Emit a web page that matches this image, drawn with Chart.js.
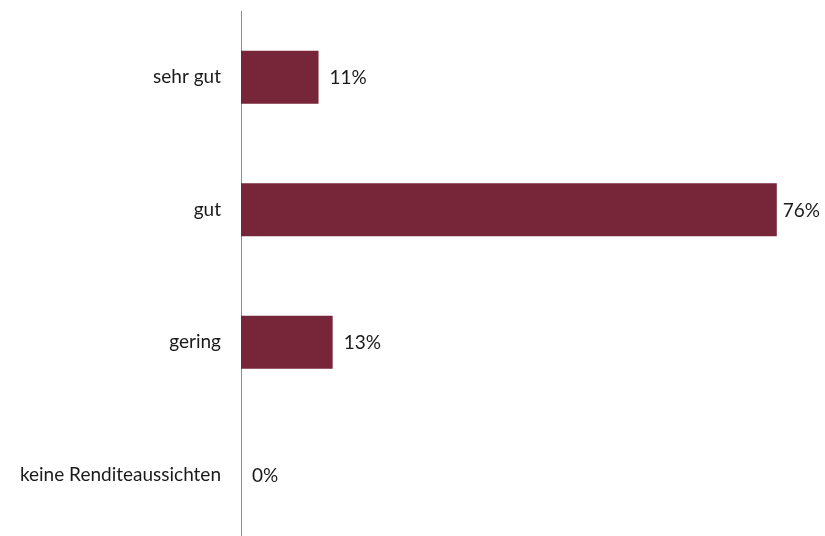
<!DOCTYPE html>
<html>
<head>
<meta charset="utf-8">
<script src="https://cdn.jsdelivr.net/npm/chart.js@4/dist/chart.umd.min.js"></script>
<style>
  html, body { margin: 0; padding: 0; background: #fff; overflow: hidden; }
  canvas { display: block; }
</style>
</head>
<body>
<canvas id="c" width="825" height="545"></canvas>
<script>
// Renditeaussichten – Anteil der Antworten je Kategorie
const categories = ['sehr gut', 'gut', 'gering', 'keine Renditeaussichten'];
const shares = [11, 76, 13, 0];
const valueLabels = ['11%', '76%', '13%', '0%'];

const BAR_COLOR = '#772538';
const TEXT_COLOR = '#1a1a1a';
const FONT_FAMILY = 'Lato, "Open Sans", sans-serif';
const FONT_SIZE = 19;

// Writes the percentage next to the end of each bar, kept inside the canvas
const valueLabelPlugin = {
  id: 'valueLabels',
  afterDatasetsDraw(chart) {
    const { ctx } = chart;
    const meta = chart.getDatasetMeta(0);
    ctx.save();
    ctx.font = FONT_SIZE + 'px ' + FONT_FAMILY;
    ctx.fillStyle = TEXT_COLOR;
    ctx.textBaseline = 'middle';
    ctx.textAlign = 'left';
    meta.data.forEach((bar, i) => {
      const text = valueLabels[i];
      const w = ctx.measureText(text).width;
      let x = bar.x + 11;
      const maxX = chart.width - 5 - w;
      if (x > maxX) x = maxX;
      ctx.fillText(text, x, bar.y + 1);
    });
    ctx.restore();
  }
};

new Chart(document.getElementById('c'), {
  type: 'bar',
  data: {
    labels: categories,
    datasets: [{
      data: shares,
      backgroundColor: BAR_COLOR,
      borderWidth: 0,
      categoryPercentage: 0.8,
      barPercentage: 0.5
    }]
  },
  options: {
    indexAxis: 'y',
    responsive: false,
    animation: false,
    layout: { padding: { top: 11, bottom: 4, left: 0, right: 20 } },
    plugins: {
      legend: { display: false },
      tooltip: { enabled: false }
    },
    scales: {
      x: {
        display: false,
        min: 0,
        max: 80
      },
      y: {
        afterFit(scale) {
          scale.width = 241;
          scale.paddingTop = 0;
          scale.paddingBottom = 0;
        },
        grid: { display: false, drawTicks: false },
        border: { display: true, color: '#8c8c8c', width: 1 },
        ticks: {
          color: TEXT_COLOR,
          padding: 20,
          font: { family: FONT_FAMILY, size: FONT_SIZE }
        }
      }
    }
  },
  plugins: [valueLabelPlugin]
});
</script>
</body>
</html>
